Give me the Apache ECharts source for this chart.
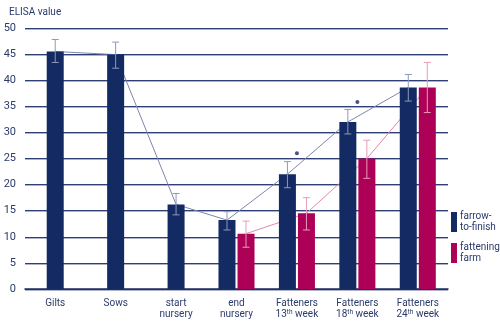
<!DOCTYPE html>
<html><head><meta charset="utf-8">
<script src="https://cdn.jsdelivr.net/npm/echarts@6/dist/echarts.min.js"></script>
<style>html,body{margin:0;padding:0;background:#fff}#c{width:500px;height:322px}</style>
</head><body><div id="c"></div>
<script>
var categories = ['Gilts', 'Sows', 'start\nnursery', 'end\nnursery', 'Fatteners\n13{sup|th} week', 'Fatteners\n18{sup|th} week', 'Fatteners\n24{sup|th} week'];
var farrow = [45.5, 44.9, 16.2, 13.2, 22.0, 32.0, 38.6];
var farrowLow = [43.4, 42.3, 14.2, 11.3, 19.4, 29.7, 36.0];
var farrowHigh = [47.8, 47.3, 18.3, 14.8, 24.4, 34.4, 41.1];
var fattening = [null, null, null, 10.6, 14.5, 25.0, 38.6];
var fatteningLow = [null, null, null, 8.0, 11.3, 21.2, 33.8];
var fatteningHigh = [null, null, null, 13.0, 17.5, 28.5, 43.4];
var stars = [null, null, null, null, 26.0, 35.8, null];
var yTicks = [0, 5, 10, 15, 20, 25, 30, 35, 40, 45, 50];

var NAVY = '#132a62', MAG = '#ad0057';
var BW = 17, HALF = 9.5;
var txt = '#2b3a6b';
var fontFam = 'Roboto, sans-serif';

var single = farrow.map(function (v, i) { return fattening[i] == null ? v : null; });
var pairF = farrow.map(function (v, i) { return fattening[i] == null ? null : v; });

function offsetFor(which, i) {
  if (which === 'f') return fattening[i] == null ? 0 : -HALF;
  return HALF;
}

function errorSeries(which, vals, lo, hi, color) {
  var data = [];
  vals.forEach(function (v, i) { if (v != null) data.push([i, lo[i], hi[i]]); });
  return {
    type: 'custom', z: 5, silent: true, data: data,
    renderItem: function (params, api) {
      var i = api.value(0);
      var p1 = api.coord([i, api.value(1)]);
      var p2 = api.coord([i, api.value(2)]);
      var x = p1[0] + offsetFor(which, i);
      var cw = 3.5;
      var st = { stroke: color, lineWidth: 1 };
      return { type: 'group', children: [
        { type: 'line', shape: { x1: x, y1: p1[1], x2: x, y2: p2[1] }, style: st },
        { type: 'line', shape: { x1: x - cw, y1: p1[1], x2: x + cw, y2: p1[1] }, style: st },
        { type: 'line', shape: { x1: x - cw, y1: p2[1], x2: x + cw, y2: p2[1] }, style: st }
      ]};
    }
  };
}

function lineSeries(which, vals, color) {
  var idx = [];
  vals.forEach(function (v, i) { if (v != null) idx.push(i); });
  var data = idx.slice(0, idx.length - 1).map(function (i, k) { return [i, vals[i], idx[k + 1], vals[idx[k + 1]]]; });
  return {
    type: 'custom', z: 1, silent: true, data: data,
    renderItem: function (params, api) {
      var i = api.value(0), j = api.value(2);
      var a = api.coord([i, api.value(1)]);
      var b = api.coord([j, api.value(3)]);
      return { type: 'line', shape: { x1: a[0] + offsetFor(which, i), y1: a[1], x2: b[0] + offsetFor(which, j), y2: b[1] },
        style: { stroke: color, lineWidth: 1 } };
    }
  };
}

var axisLabel = {
  interval: 0,
  color: txt, fontFamily: fontFam, fontSize: 10, lineHeight: 11, margin: 9,
  rich: { sup: { fontSize: 6.5, lineHeight: 11, verticalAlign: 'top', color: txt, fontFamily: fontFam, padding: [0, 0, 4, 0] } }
};

var chart = echarts.init(document.getElementById('c'), null, { renderer: 'canvas' });
chart.setOption({
  animation: false,
  title: { text: 'ELISA value', left: 4, top: 2, textStyle: { fontSize: 10, fontWeight: 'normal', color: txt, fontFamily: fontFam } },
  grid: { left: 25, right: 52, top: 28, bottom: 33 },
  legend: {
    orient: 'vertical', left: 451, top: 211, itemWidth: 6, itemHeight: 20, itemGap: 9, icon: 'rect', padding: 0,
    data: ['farrow-to-finish', 'fattening farm'],
    formatter: function (n) { return n === 'farrow-to-finish' ? 'farrow-\nto-finish' : 'fattening\nfarm'; },
    textStyle: { color: txt, fontFamily: fontFam, fontSize: 10, lineHeight: 11, align: 'left', padding: [0, 0, 0, -2] }
  },
  xAxis: [
    { type: 'category', data: categories, axisTick: { show: false },
      axisLine: { lineStyle: { color: '#1c2b60', width: 1.5 } }, axisLabel: axisLabel },
    { type: 'category', data: categories, show: false }
  ],
  yAxis: {
    type: 'value', min: yTicks[0], max: yTicks[yTicks.length - 1], interval: 5,
    axisLabel: { color: txt, fontFamily: fontFam, fontSize: 11, margin: 9 },
    axisLine: { show: false }, axisTick: { show: false },
    splitLine: { lineStyle: { color: '#2f3e75', width: 1, shadowColor: 'rgba(47,62,117,0.4)', shadowOffsetY: 1, shadowBlur: 0 } }
  },
  series: [
    lineSeries('f', farrow, '#7c86ad'),
    lineSeries('g', fattening, '#e585ac'),
    { name: 'farrow-to-finish', type: 'bar', xAxisIndex: 0, data: single, barWidth: BW, itemStyle: { color: NAVY }, z: 2 },
    { name: 'farrow-to-finish', type: 'bar', xAxisIndex: 1, data: pairF, barWidth: BW, barGap: '12%', itemStyle: { color: NAVY }, z: 2 },
    { name: 'fattening farm', type: 'bar', xAxisIndex: 1, data: fattening, barWidth: BW, barGap: '12%', itemStyle: { color: MAG }, z: 2 },
    errorSeries('f', farrow, farrowLow, farrowHigh, '#8f98bb'),
    errorSeries('g', fattening, fatteningLow, fatteningHigh, '#e89bbb'),
    { type: 'scatter', data: stars.map(function (v, i) { return v == null ? null : [i, v]; }).filter(function (d) { return d; }),
      symbol: 'circle', symbolSize: 4, itemStyle: { color: NAVY }, z: 6, silent: true }
  ]
});
</script></body></html>
